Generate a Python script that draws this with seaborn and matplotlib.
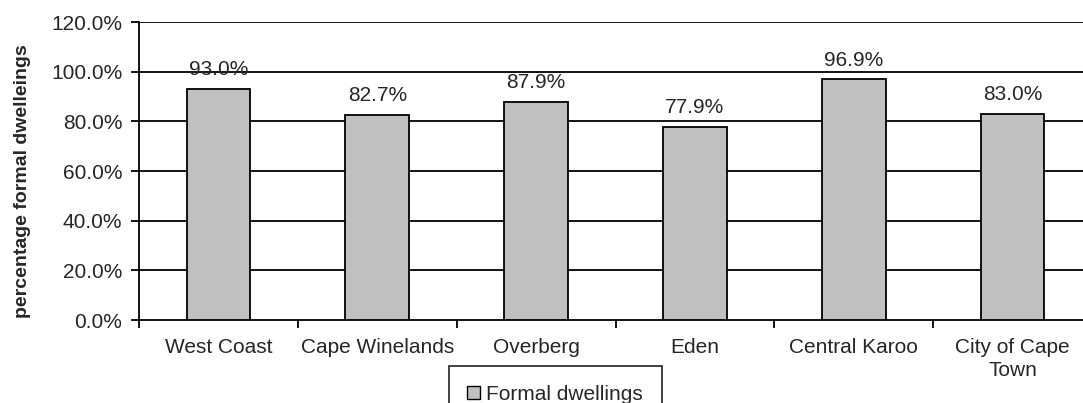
import matplotlib
matplotlib.use("Agg")
import matplotlib.pyplot as plt
import seaborn as sns
import pandas as pd
from matplotlib.patches import Patch
from matplotlib.ticker import FixedLocator, FuncFormatter

districts = ["West Coast", "Cape Winelands", "Overberg", "Eden", "Central Karoo", "City of Cape\nTown"]
formal_pct = [93.0, 82.7, 87.9, 77.9, 96.9, 83.0]
y_ticks = [0, 20, 40, 60, 80, 100, 120]
series_name = "Formal dwellings"
y_label = "percentage formal dwelleings"

sns.set_theme(style="white")
plt.rcParams["font.family"] = ["Liberation Sans", "DejaVu Sans"]

FS = 15

df = pd.DataFrame({"district": districts, "pct": formal_pct})

fig = plt.figure(figsize=(10.83, 4.03), dpi=100)
ax = fig.add_axes([139 / 1083, 1 - 320 / 403, (1092 - 139) / 1083, (320 - 22) / 403])

sns.barplot(data=df, x="district", y="pct", color="#c0c0c0", saturation=1,
            edgecolor="black", linewidth=1.3, width=0.4, ax=ax, zorder=3)

ax.set_xlim(-0.5, len(districts) - 0.5)
ax.set_ylim(0, 120)
ax.yaxis.set_major_locator(FixedLocator(y_ticks))
ax.yaxis.set_major_formatter(FuncFormatter(lambda v, _: f"{v:.1f}%"))
for v in y_ticks[1:]:
    ax.axhline(v, color="black", linewidth=1.3, zorder=1)

ax.set_xticks(range(len(districts)))
ax.set_xticklabels(districts, fontsize=FS, linespacing=1.25)
ax.tick_params(axis="x", length=0, pad=13)
ax.set_xticks([i - 0.5 for i in range(len(districts) + 1)], minor=True)
ax.tick_params(axis="x", which="minor", bottom=True, length=6, width=1.3, color="black", direction="out")
ax.tick_params(axis="y", left=True, length=6, width=1.3, color="black", direction="out", labelsize=FS, pad=6)

for side in ["top", "right"]:
    ax.spines[side].set_visible(False)
for side in ["left", "bottom"]:
    ax.spines[side].set_color("black")
    ax.spines[side].set_linewidth(1.3)

ax.set_xlabel("")
ax.set_ylabel(y_label, fontsize=14, fontweight="bold")
ax.yaxis.set_label_coords(-0.113, 0.465)

for bars in ax.containers:
    ax.bar_label(bars, labels=[f"{v:.1f}%" for v in formal_pct], padding=7, fontsize=FS, zorder=4)

handle = Patch(facecolor="#c0c0c0", edgecolor="black", linewidth=1.0)
leg = fig.legend([handle], [series_name], loc="upper center", bbox_to_anchor=(0.5125, 1 - 366 / 403),
                 frameon=True, fancybox=False, edgecolor="black", fontsize=FS,
                 handlelength=0.6, handleheight=0.6, handletextpad=0.3,
                 borderpad=0.9, borderaxespad=0)
leg.get_frame().set_linewidth(1.3)

fig.savefig("out.png", dpi=100, facecolor="white")
